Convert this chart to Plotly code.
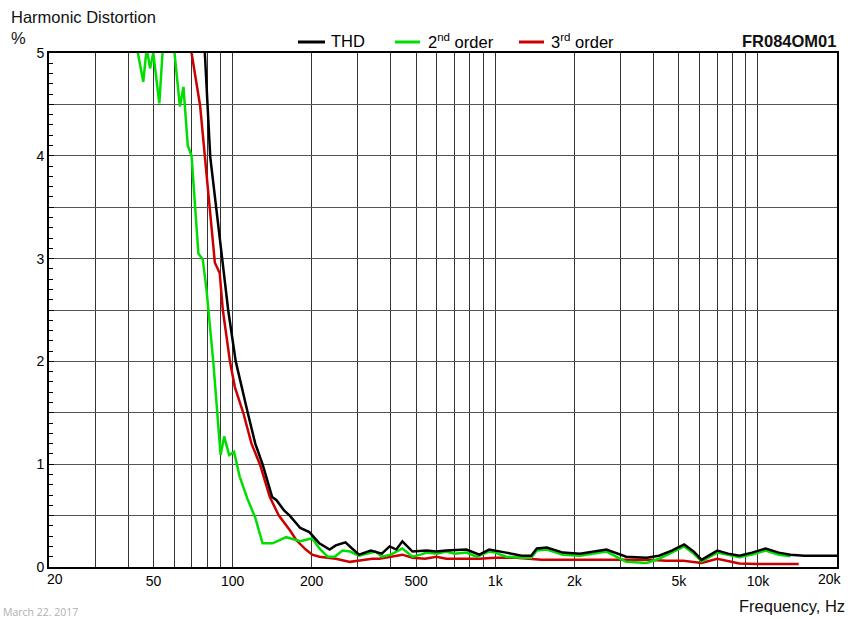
import math
import plotly.graph_objects as go

# ---------------- data ----------------
thd_freq = [70, 78.4, 82.2, 86.6, 89.3, 96.2, 102.8, 108.2, 114.2, 122, 130, 141.5, 147, 157, 165, 181, 196,
            214, 234, 247, 269, 285, 303, 336, 370, 396, 420, 443, 484, 548, 597, 651, 776, 870, 948,
            1100, 1260, 1370, 1440, 1570, 1660, 1810, 2100, 2400, 2650, 3150, 3770, 4200, 4700, 5240,
            5700, 6100, 7000, 7700, 8500, 9500, 10700, 12000, 13300, 15000, 17500, 20000]
thd_vals = [6.0, 5.0, 3.99, 3.5, 3.18, 2.5, 2.0, 1.75, 1.5, 1.2, 1.0, 0.68, 0.65, 0.55, 0.5, 0.38, 0.34,
            0.23, 0.17, 0.21, 0.24, 0.18, 0.12, 0.16, 0.13, 0.2, 0.17, 0.25, 0.15, 0.16, 0.15, 0.16, 0.17, 0.12, 0.17,
            0.14, 0.11, 0.11, 0.18, 0.19, 0.17, 0.14, 0.13, 0.15, 0.17, 0.1, 0.09, 0.11, 0.16, 0.22,
            0.15, 0.07, 0.16, 0.13, 0.11, 0.14, 0.18, 0.14, 0.12, 0.11, 0.11, 0.11]

h2_freq = [42, 43.6, 45.7, 47.1, 48.5, 49.9, 52.6, 54.3, 56, 58, 60.1, 63, 65, 67.5, 69.8, 72, 74.1, 77,
           79.6, 84.4, 87.4, 90, 92.9, 97, 101.3, 106.4, 114, 122, 130, 142, 160, 181, 201, 214, 230,
           245, 262, 280, 303, 330, 350, 370, 400, 443, 484, 520, 548, 600, 651, 700, 776, 850, 948,
           1000, 1100, 1260, 1370, 1440, 1570, 1660, 1810, 2100, 2650, 3150, 3770, 4200, 4700, 5240,
           5700, 6100, 7000, 7700, 8500, 9500, 10700, 12000, 13300]
h2_vals = [5.6, 5.0, 4.72, 5.05, 4.85, 5.0, 4.51, 5.05, 5.6, 5.6, 5.0, 4.48, 4.67, 4.1, 4.0, 3.5, 3.05, 2.99,
           2.69, 2.0, 1.5, 1.09, 1.27, 1.09, 1.12, 0.88, 0.66, 0.48, 0.23, 0.23, 0.29, 0.25, 0.28, 0.18, 0.1,
           0.1, 0.16, 0.15, 0.11, 0.13, 0.15, 0.1, 0.12, 0.18, 0.1, 0.12, 0.14, 0.13, 0.15, 0.13, 0.14, 0.1, 0.15,
           0.14, 0.1, 0.09, 0.09, 0.16, 0.17, 0.15, 0.12, 0.11, 0.15, 0.05, 0.04, 0.08, 0.14, 0.2,
           0.13, 0.055, 0.14, 0.115, 0.095, 0.12, 0.16, 0.12, 0.105]

h3_freq = [68, 69.8, 75.2, 78.6, 81.7, 84.3, 85.6, 89.3, 91.8, 97.7, 102, 109.8, 118, 127, 138.6, 150,
           165, 175, 190, 201, 214, 247, 280, 300, 340, 362, 400, 443, 484, 540, 597, 651, 776, 870, 1000,
           1200, 1500, 2000, 2650, 3150, 3770, 4500, 5200, 6100, 7000, 8500, 10000, 14300]
h3_vals = [5.5, 5.0, 4.49, 3.99, 3.5, 3.18, 2.96, 2.86, 2.5, 2.0, 1.75, 1.5, 1.2, 1.0, 0.68, 0.5,
           0.36, 0.26, 0.17, 0.12, 0.1, 0.08, 0.05, 0.06, 0.08, 0.08, 0.1, 0.12, 0.09, 0.08, 0.1, 0.08, 0.08, 0.08, 0.09,
           0.09, 0.07, 0.07, 0.07, 0.07, 0.07, 0.06, 0.06, 0.04, 0.08, 0.035, 0.03, 0.03]

x_tickvals = [20, 30, 40, 50, 60, 70, 80, 90, 100, 200, 300, 400, 500, 600, 700, 800, 900,
              1000, 2000, 3000, 4000, 5000, 6000, 7000, 8000, 9000, 10000, 20000]
x_ticktext = ["", "", "", "50", "", "", "", "", "100", "200", "", "", "500", "", "", "", "",
              "1k", "2k", "", "", "5k", "", "", "", "", "10k", ""]
# end labels are drawn nudged inwards, as in the original
x_end_labels = [(20, "20", 6), (20000, "20k", -7)]
y_tickvals = [0, 0.5, 1, 1.5, 2, 2.5, 3, 3.5, 4, 4.5, 5]
y_ticktext = ["0", "", "1", "", "2", "", "3", "", "4", "", "5"]

BLACK = "#000000"
GREEN = "#00dd00"
RED = "#cc0000"

fig = go.Figure()
fig.add_trace(go.Scatter(x=h3_freq, y=h3_vals, mode="lines", line=dict(color=RED, width=2.5), name="3rd order"))
fig.add_trace(go.Scatter(x=h2_freq, y=h2_vals, mode="lines", line=dict(color=GREEN, width=2.5), name="2nd order"))
fig.add_trace(go.Scatter(x=thd_freq, y=thd_vals, mode="lines", line=dict(color=BLACK, width=2.5), name="THD"))

FONT = "Liberation Sans, Arial, sans-serif"
L, R, T, B = 49, 11, 53, 52
W, H = 848, 619
PW, PH = W - L - R, H - T - B


def px(xp):
    return (xp - L) / PW


def py(yp):
    return (H - B - yp) / PH


fig.update_layout(
    width=W, height=H, autosize=False,
    margin=dict(l=L, r=R, t=T, b=B, autoexpand=False),
    paper_bgcolor="white", plot_bgcolor="white",
    showlegend=False,
    font=dict(family=FONT, size=14, color="black"),
)
fig.update_xaxes(
    type="log", range=[math.log10(20), math.log10(20000)], automargin=False,
    tickvals=x_tickvals, ticktext=x_ticktext, ticks="",
    showgrid=True, gridcolor="#333333", gridwidth=1,
    showline=True, linecolor="black", linewidth=2, mirror=True,
    zeroline=False, tickfont=dict(size=14, family=FONT),
)
fig.update_yaxes(
    range=[0, 5], tickvals=y_tickvals, ticktext=y_ticktext, automargin=False,
    ticks="inside", ticklen=5, tickcolor="black",
    minor=dict(dtick=0.1, tick0=0, ticks="inside", ticklen=4, tickcolor="black", showgrid=False),
    showgrid=True, gridcolor="#555555", gridwidth=1,
    showline=True, linecolor="black", linewidth=2, mirror=True,
    zeroline=False, tickfont=dict(size=14, family=FONT),
)

for fval, txt, shift in x_end_labels:
    fig.add_annotation(text=txt, xref="x", yref="paper", x=math.log10(fval), y=py(579),
                       xanchor="center", yanchor="middle", xshift=shift, showarrow=False,
                       font=dict(size=14, family=FONT, color="black"))

# Legend built from shapes + text
legend_items = [("THD", BLACK, 298, 325, 329),
                ("2<sup>nd</sup> order", GREEN, 395, 420, 426),
                ("3<sup>rd</sup> order", RED, 519, 544, 549)]
ly = py(42)
for label, col, x0, x1, xt in legend_items:
    fig.add_shape(type="line", xref="paper", yref="paper", x0=px(x0), x1=px(x1), y0=ly, y1=ly,
                  line=dict(color=col, width=3))
    fig.add_annotation(text=label, xref="paper", yref="paper", x=px(xt), y=py(41),
                       xanchor="left", yanchor="middle", showarrow=False,
                       font=dict(size=16.5, family=FONT, color="black"))

fig.add_annotation(text="<b>FR084OM01</b>", xref="paper", yref="paper", x=px(838), y=py(41),
                   xanchor="right", yanchor="middle", showarrow=False,
                   font=dict(size=16.5, family=FONT, color="#111111"))
fig.add_annotation(text="Harmonic Distortion", xref="paper", yref="paper", x=px(9), y=py(17),
                   xanchor="left", yanchor="middle", showarrow=False,
                   font=dict(size=16.5, family=FONT, color="#111111"))
fig.add_annotation(text="%", xref="paper", yref="paper", x=px(9), y=py(38),
                   xanchor="left", yanchor="middle", showarrow=False,
                   font=dict(size=16.5, family=FONT, color="#111111"))
fig.add_annotation(text="Frequency, Hz", xref="paper", yref="paper", x=px(847), y=py(606),
                   xanchor="right", yanchor="middle", showarrow=False,
                   font=dict(size=16.5, family=FONT, color="#111111"))
fig.add_annotation(text="March 22. 2017", xref="paper", yref="paper", x=px(1), y=py(612),
                   xanchor="left", yanchor="middle", showarrow=False,
                   font=dict(size=10.5, family="Open Sans, sans-serif", color="#b0b0b0"))

fig.write_html("out.html", config={"displayModeBar": False},
               post_script="document.body.style.margin='0';document.body.style.overflow='hidden';")
